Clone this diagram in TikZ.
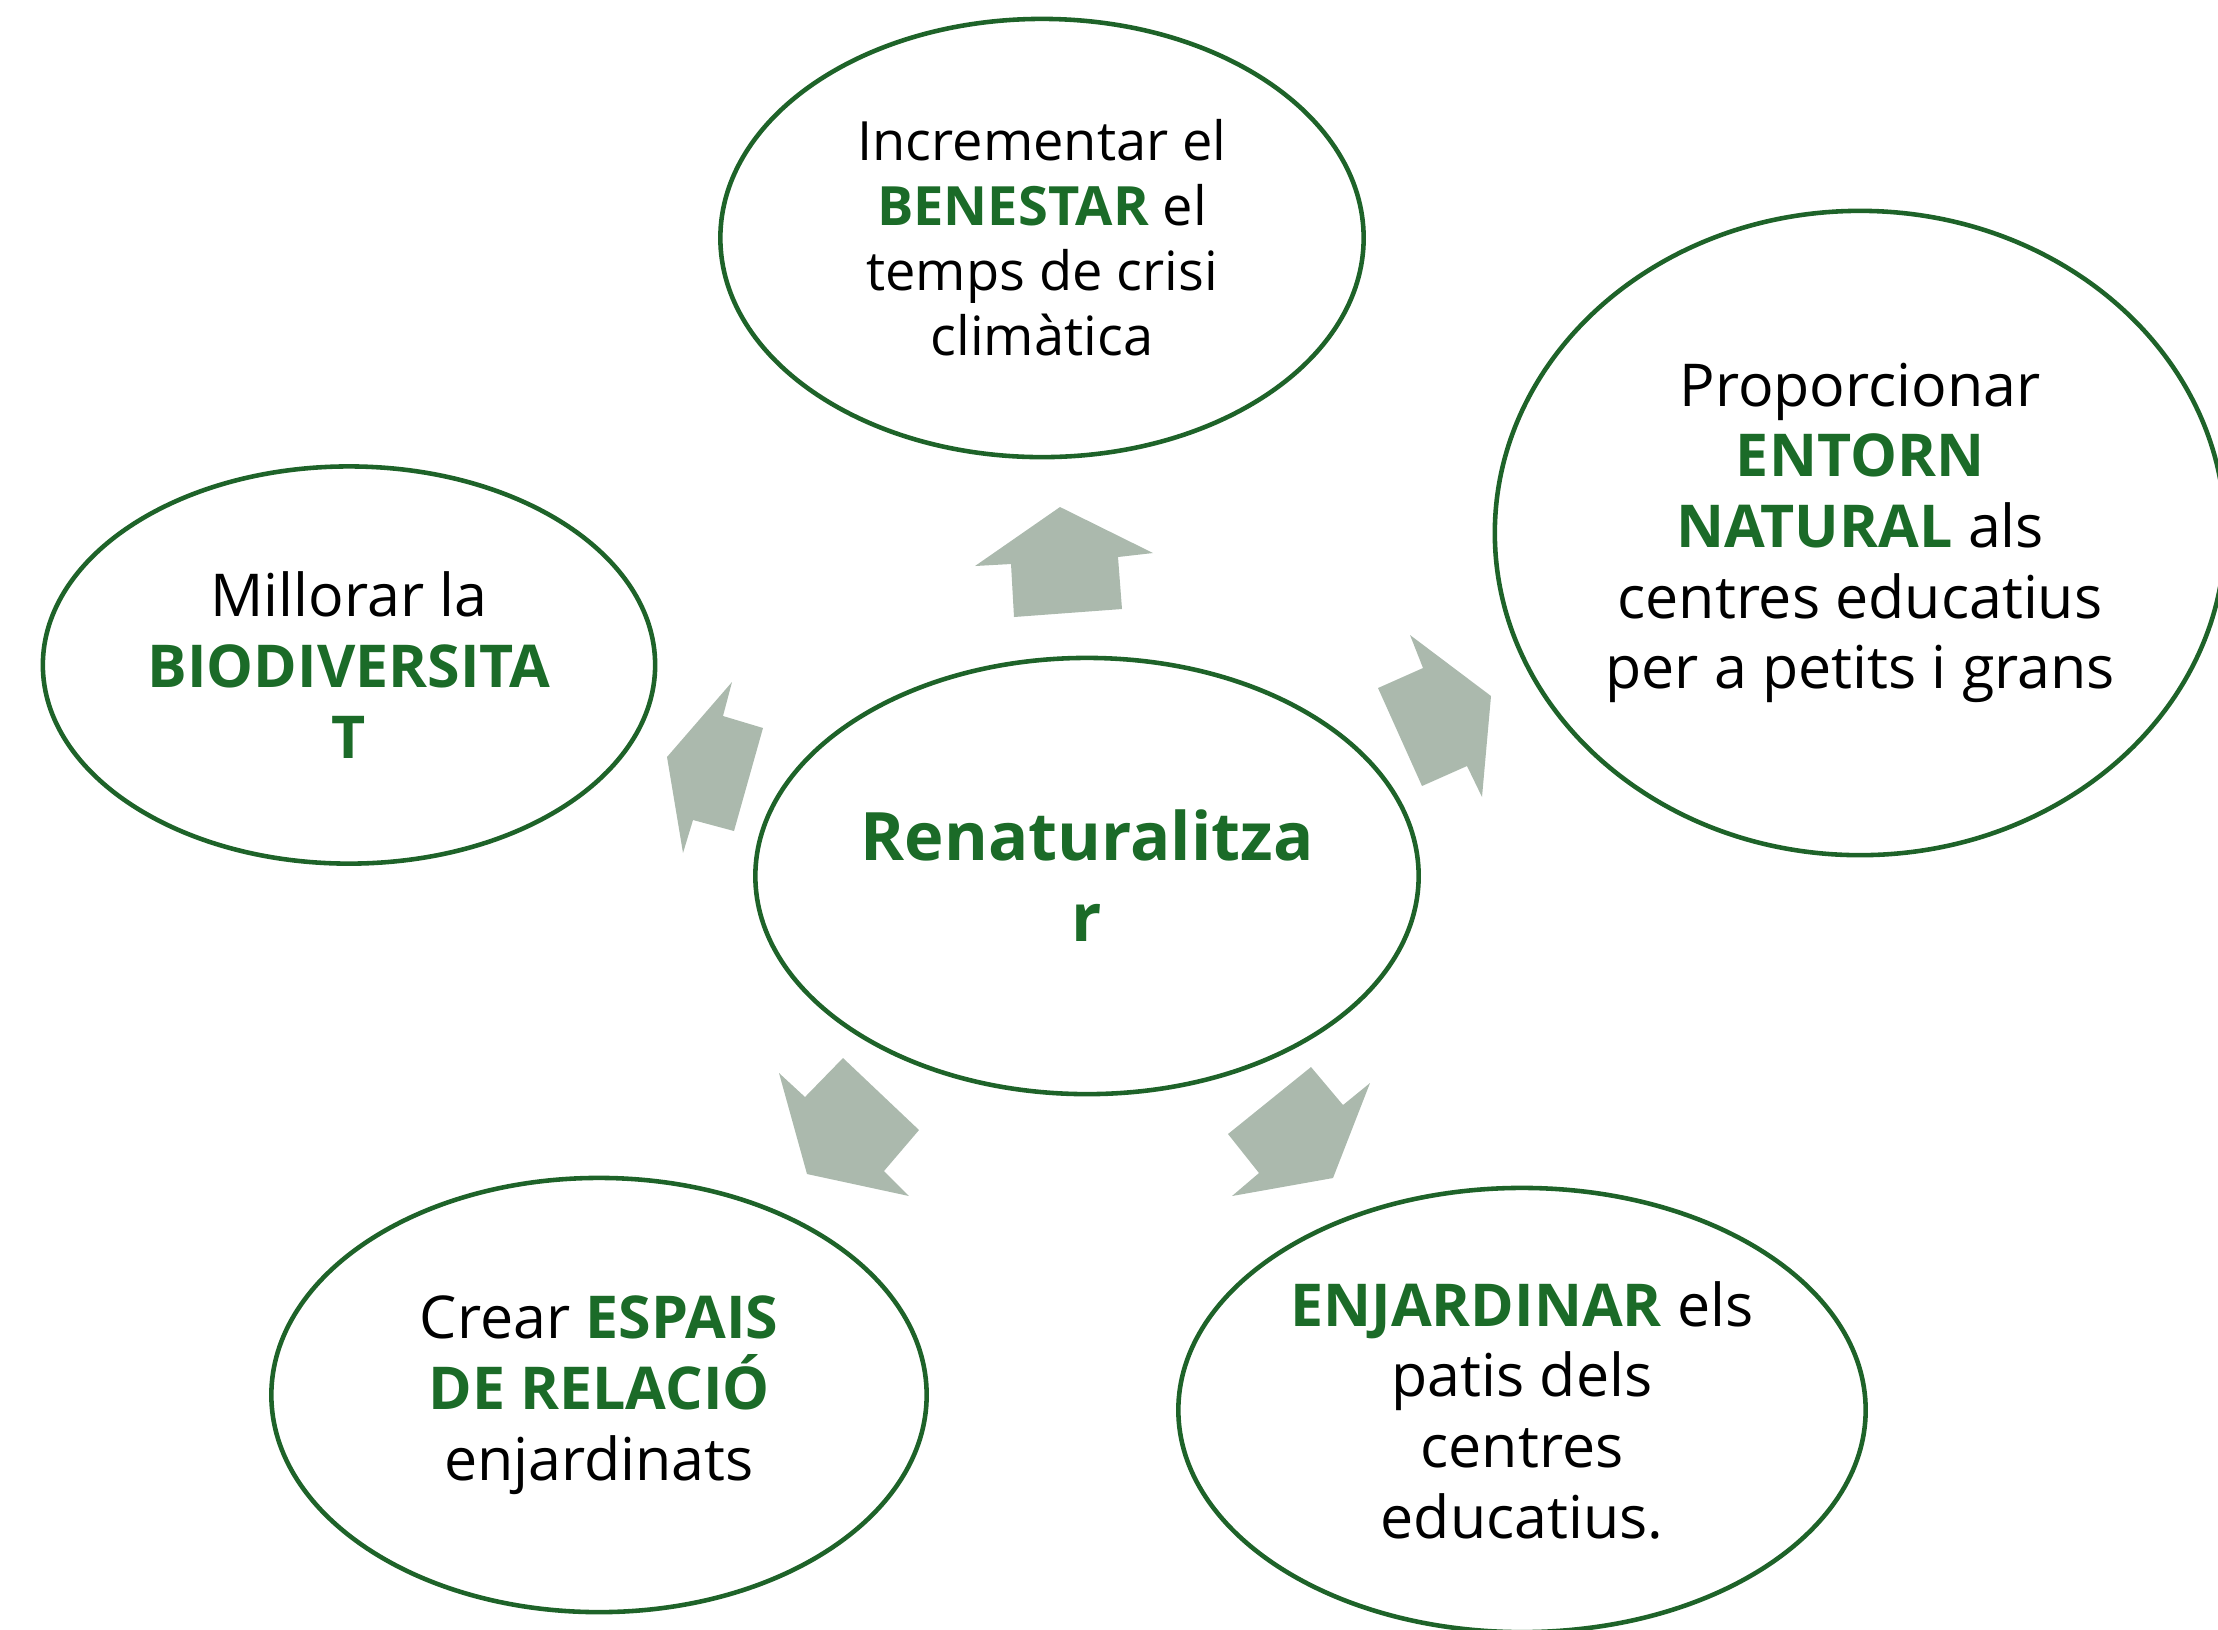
\documentclass[tikz,border=0pt]{standalone}
\usepackage{fontspec}
\setmainfont{Open Sans}
\usetikzlibrary{shapes.geometric}
\definecolor{dgreen}{RGB}{27,107,40}
\definecolor{estroke}{RGB}{30,99,41}
\definecolor{afill}{RGB}{171,185,173}
\newcommand{\hl}[1]{\textbf{\color{dgreen}#1}}
\tikzset{
  bub/.style={draw=estroke, line width=1.3pt, ellipse, inner sep=0pt, align=center, text=black},
  blockarrow/.style={fill=afill, draw=none}
}
\begin{document}
\begin{tikzpicture}[x=0.01cm,y=-0.01cm]
\useasboundingbox (0,0) rectangle (2218,1629);
% ellipses
\node[bub, minimum width=643pt*0.2845, minimum height=438pt*0.2845, font=\fontsize{15.4}{18.5}\selectfont] (top) at (1042,238)
  {Incrementar el\\ \hl{BENESTAR} el\\ temps de crisi\\ climàtica};
\node[bub, minimum width=730pt*0.2845, minimum height=644pt*0.2845, font=\fontsize{16.8}{20.1}\selectfont] (right) at (1860,533)
  {Proporcionar\\ \hl{ENTORN}\\ \hl{NATURAL} als\\ centres educatius\\ per a petits i grans};
\node[bub, minimum width=612pt*0.2845, minimum height=397pt*0.2845, font=\fontsize{16.8}{20.1}\selectfont] (left) at (349,665)
  {Millorar la\\ \hl{BIODIVERSITA}\\ \hl{T}};
\node[bub, minimum width=663pt*0.2845, minimum height=436pt*0.2845, font=\fontsize{19}{23}\selectfont] (center) at (1087,876)
  {\hl{Renaturalitza}\\ \hl{r}};
\node[bub, minimum width=655pt*0.2845, minimum height=434pt*0.2845, font=\fontsize{16.8}{20.1}\selectfont] (bl) at (599,1395)
  {Crear \hl{ESPAIS}\\ \hl{DE RELACIÓ}\\ enjardinats};
\node[bub, minimum width=687pt*0.2845, minimum height=444pt*0.2845, font=\fontsize{16.8}{20.1}\selectfont] (br) at (1522,1410)
  {\hl{ENJARDINAR} els\\ patis dels\\ centres\\ educatius.};
% block arrows
\fill[blockarrow] (1060,507) -- (1153,553) -- (1118,557) -- (1122,609) -- (1014,617) -- (1011,564) -- (975,566) -- cycle;
\fill[blockarrow] (1410,635) -- (1423,668) -- (1378,688) -- (1422,786) -- (1467,766) -- (1482,797) -- (1491,696) -- cycle;
\fill[blockarrow] (732,682) -- (723,716) -- (763,728) -- (734,831) -- (693,820) -- (683,853) -- (667,757) -- cycle;
\fill[blockarrow] (843,1058) -- (919,1130) -- (884,1171) -- (909,1196) -- (807,1174) -- (779,1073) -- (805,1097) -- cycle;
\fill[blockarrow] (1311,1067) -- (1343,1105) -- (1370,1083) -- (1333,1178) -- (1232,1196) -- (1259,1173) -- (1228,1134) -- cycle;
\end{tikzpicture}
\end{document}
